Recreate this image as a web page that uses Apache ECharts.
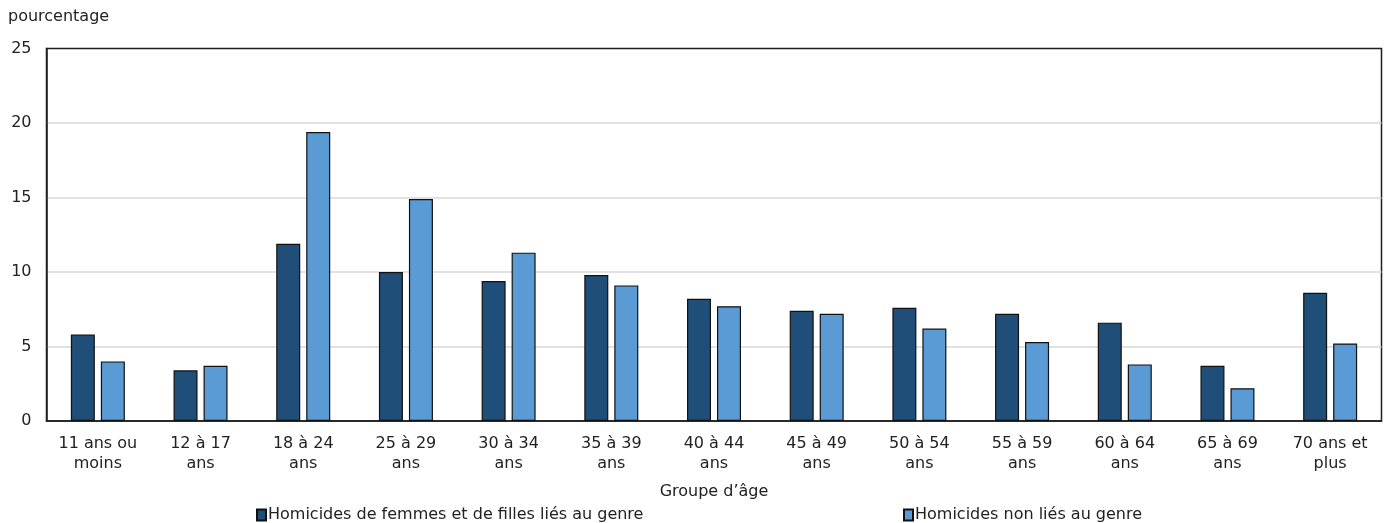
<!DOCTYPE html>
<html>
<head>
<meta charset="utf-8">
<script src="https://cdn.jsdelivr.net/npm/echarts@6/dist/echarts.min.js"></script>
<style>
  html, body { margin: 0; padding: 0; background: #fff; }
  #chart { width: 1388px; height: 523px; }
</style>
</head>
<body>
<div id="chart"></div>
<script>
// Age groups (two-line labels)
const categories = [
  "11 ans ou\nmoins", "12 à 17\nans", "18 à 24\nans", "25 à 29\nans", "30 à 34\nans",
  "35 à 39\nans", "40 à 44\nans", "45 à 49\nans", "50 à 54\nans", "55 à 59\nans",
  "60 à 64\nans", "65 à 69\nans", "70 ans et\nplus"
];

// Percentage of victims in each age group
const genderRelated = [5.8, 3.4, 11.9, 10.0, 9.4, 9.8, 8.2, 7.4, 7.6, 7.2, 6.6, 3.7, 8.6];
const nonGenderRelated = [4.0, 3.7, 19.4, 14.9, 11.3, 9.1, 7.7, 7.2, 6.2, 5.3, 3.8, 2.2, 5.2];

const seriesNames = [
  "Homicides de femmes et de filles liés au genre",
  "Homicides non liés au genre"
];

const yTicks = [0, 5, 10, 15, 20, 25];

const FONT = "DejaVu Sans, Verdana, sans-serif";
const TEXT = "#222";
const SIZE = 16;

const chart = echarts.init(document.getElementById("chart"), null, { renderer: "canvas" });

const legendStyle = {
  icon: "rect",
  itemWidth: 9,
  itemHeight: 11,
  itemGap: 4,
  textStyle: { fontFamily: FONT, fontSize: SIZE, color: TEXT, padding: [0, 0, 0, -3] }
};

chart.setOption({
  animation: false,
  textStyle: { fontFamily: FONT, color: TEXT },
  title: {
    text: "pourcentage",
    left: 3,
    top: 4,
    textStyle: { fontFamily: FONT, fontSize: SIZE, fontWeight: "normal", color: TEXT }
  },
  legend: [
    Object.assign({ data: [seriesNames[0]], left: 251, top: 502 }, legendStyle),
    Object.assign({ data: [seriesNames[1]], left: 898, top: 502 }, legendStyle)
  ],
  grid: {
    left: 46.5,
    right: 6.5,
    top: 48.5,
    bottom: 102,
    show: true,
    borderColor: "#1e1e1e",
    borderWidth: 1.5,
    containLabel: false
  },
  xAxis: {
    type: "category",
    data: categories,
    name: "Groupe d’âge",
    nameLocation: "middle",
    nameGap: 63,
    nameTextStyle: { fontFamily: FONT, fontSize: SIZE, color: TEXT },
    axisLine: { show: true, lineStyle: { color: "#1e1e1e", width: 1.5 } },
    axisTick: { show: false },
    axisLabel: {
      interval: 0,
      margin: 13,
      fontFamily: FONT,
      fontSize: SIZE,
      lineHeight: 20,
      color: TEXT
    }
  },
  yAxis: {
    type: "value",
    min: yTicks[0],
    max: yTicks[yTicks.length - 1],
    interval: 5,
    axisLine: { show: true, lineStyle: { color: "#1e1e1e", width: 1.5 } },
    axisTick: { show: false },
    axisLabel: { margin: 15, fontFamily: FONT, fontSize: SIZE, color: TEXT },
    splitLine: {
      show: true,
      showMinLine: false,
      showMaxLine: false,
      lineStyle: { color: "#d9d9d9", width: 1.5 }
    }
  },
  series: [
    {
      name: seriesNames[0],
      type: "bar",
      data: genderRelated,
      barWidth: 24,
      barGap: "25%",
      itemStyle: { color: "#1f4e79", borderColor: "#111", borderWidth: 1.2 }
    },
    {
      name: seriesNames[1],
      type: "bar",
      data: nonGenderRelated,
      barWidth: 24,
      itemStyle: { color: "#5b9bd5", borderColor: "#111", borderWidth: 1.2 }
    }
  ]
});
</script>
</body>
</html>
